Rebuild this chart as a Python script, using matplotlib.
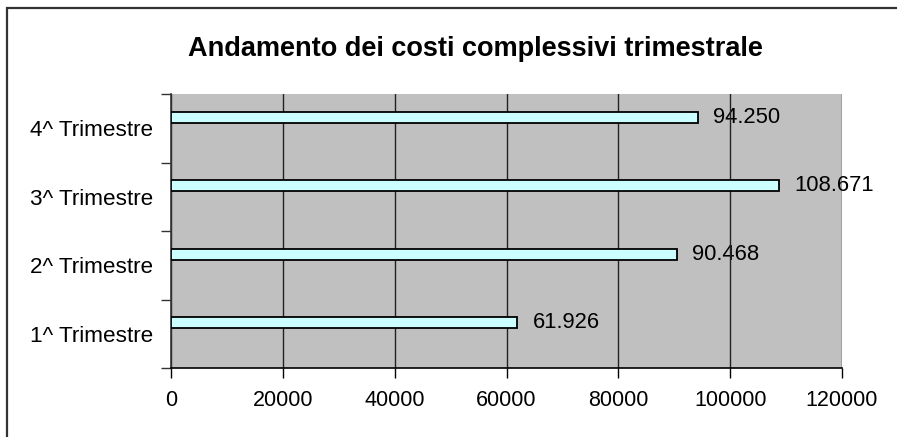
import matplotlib
matplotlib.use("Agg")
import matplotlib.pyplot as plt
from matplotlib.patches import Rectangle
from matplotlib.ticker import FixedLocator, NullFormatter

plt.rcParams['font.family'] = ['Liberation Sans', 'DejaVu Sans']

categories = ["1^ Trimestre", "2^ Trimestre", "3^ Trimestre", "4^ Trimestre"]
values = [61926, 90468, 108671, 94250]
value_labels = ["61.926", "90.468", "108.671", "94.250"]
x_ticks = [0, 20000, 40000, 60000, 80000, 100000, 120000]
title = "Andamento dei costi complessivi trimestrale"

W, H = 897, 437
fig = plt.figure(figsize=(W / 100, H / 100), dpi=100)
fig.patch.set_facecolor("white")

# outer border (right/bottom edges lie outside the image)
fig.patches.append(Rectangle((6.5 / W, -0.1), 1.2, 1 - 7.5 / H + 0.1,
                             transform=fig.transFigure, fill=False,
                             edgecolor="#333333", linewidth=1.6))

left, right, top, bottom = 171, 842, 94, 368
ax = fig.add_axes([left / W, 1 - bottom / H, (right - left) / W, (bottom - top) / H])
ax.set_facecolor("#C0C0C0")

ypos = list(range(len(categories)))
bar_y = [y + 0.16 for y in ypos]
ax.barh(bar_y, values, height=0.16, color="#CCFFFF", edgecolor="black",
        linewidth=1.3, zorder=3)

for y, v, lab in zip(bar_y, values, value_labels):
    ax.annotate(lab, (v, y), xytext=(11, 0), textcoords="offset points",
                ha="left", va="center", fontsize=15.8, color="black",
                zorder=0.4, annotation_clip=False)

ax.set_xlim(0, 120000)
ax.set_ylim(-0.5, 3.5)
ax.set_xticks(x_ticks)
ax.set_xticklabels([str(t) for t in x_ticks], fontsize=15.5)
ax.xaxis.grid(True, color="#222222", linewidth=1.0)
ax.set_axisbelow(True)

ax.yaxis.set_major_locator(FixedLocator([-0.5, 0.5, 1.5, 2.5, 3.5]))
ax.yaxis.set_major_formatter(NullFormatter())
ax.yaxis.set_minor_locator(FixedLocator(ypos))
ax.set_yticklabels(categories, minor=True, fontsize=16.2)
ax.tick_params(axis="y", which="minor", length=0, pad=13)
ax.tick_params(axis="y", which="major", length=7, width=1, color="#333333")
ax.tick_params(axis="x", length=7, width=1, pad=9, color="black")

for s in ["top", "right"]:
    ax.spines[s].set_visible(False)
ax.spines["left"].set_color("#333333")
ax.spines["bottom"].set_color("black")
ax.spines["left"].set_linewidth(1.2)
ax.spines["bottom"].set_linewidth(1.2)

fig.text(475 / W, 1 - 49 / H, title, ha="center", va="center",
         fontsize=19.5, fontweight="bold")

fig.savefig("out.png", dpi=100)
